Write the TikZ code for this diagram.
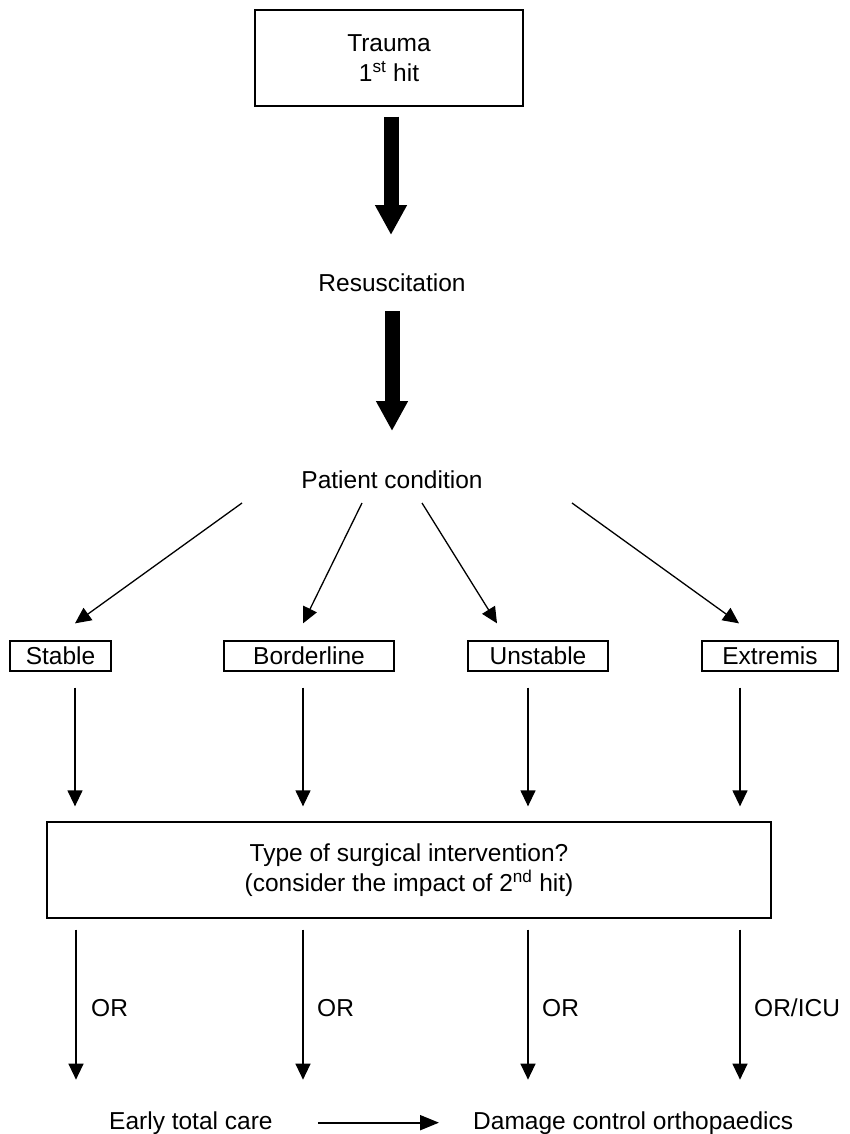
\documentclass[tikz,border=0pt]{standalone}
\usepackage{fontspec}
\setmainfont{Liberation Sans}
\usetikzlibrary{arrows.meta,calc}
\begin{document}
\begin{tikzpicture}[x=1pt,y=-1pt,
  every node/.style={font=\fontsize{24.5}{30}\selectfont, inner sep=0pt},
  box/.style={draw, line width=1.3pt, minimum height=30pt, align=center},
  thinarr/.style={line width=1.3pt, -{Triangle[length=16pt,width=15pt]}},
  fatarr/.style={line width=15pt, -{Triangle[length=30pt,width=30pt]}},
  lbl/.style={anchor=west}]
\path[use as bounding box, fill=white] (0,0) rectangle (849,1134);

% nodes
\node[box, minimum width=268pt, minimum height=96pt] (trauma) at (389,58) {Trauma\\1\textsuperscript{st} hit};
\node (resus) at (392,283) {Resuscitation};
\node (pc) at (392,480) {Patient condition};

\node[box, minimum width=101pt] (stable) at (60.5,656) {Stable};
\node[box, minimum width=170pt] (border) at (309,656) {Borderline};
\node[box, minimum width=140pt] (unst) at (538,656) {Unstable};
\node[box, minimum width=136pt] (extr) at (770,656) {Extremis};

\node[box, minimum width=724pt, minimum height=96pt, font=\fontsize{24.5}{29.5}\selectfont] (big) at (409,870)
  {Type of surgical intervention?\\(consider the impact of 2\textsuperscript{nd} hit)};

\node[lbl] (or1) at (91,1008) {OR};
\node[lbl] (or2) at (317,1008) {OR};
\node[lbl] (or3) at (542,1008) {OR};
\node[lbl] (or4) at (754,1008) {OR/ICU};

\node[anchor=base west] (etc) at (109,1129) {Early total care};
\node[anchor=base west] (dco) at (473,1129) {Damage control orthopaedics};

% thick arrows
\draw[fatarr] ($(trauma.south)+(2,10)$) -- ($(resus.center)+(-1,-48)$);
\draw[fatarr] ($(resus.center)+(0,28)$) -- ($(pc.center)+(0,-49)$);

% diagonal arrows
\draw[thinarr] ($(pc.center)+(-150,23)$) -- ($(stable.north)+(14.5,-17)$);
\draw[thinarr] ($(pc.center)+(-30,23)$) -- ($(border.north)+(-6,-17)$);
\draw[thinarr] ($(pc.center)+(30,23)$) -- ($(unst.north)+(-41,-17)$);
\draw[thinarr] ($(pc.center)+(180,23)$) -- ($(extr.north)+(-31,-17)$);

% vertical arrows into big box
\draw[thinarr] ($(stable.south)+(14.5,16)$) -- ($(stable.south |- big.north)+(14.5,-15)$);
\draw[thinarr] ($(border.south)+(-6,16)$) -- ($(border.south |- big.north)+(-6,-15)$);
\draw[thinarr] ($(unst.south)+(-10,16)$) -- ($(unst.south |- big.north)+(-10,-15)$);
\draw[thinarr] ($(extr.south)+(-30,16)$) -- ($(extr.south |- big.north)+(-30,-15)$);

% arrows out of big box
\draw[thinarr] ($(big.south)+(-333,11)$) -- ($(big.south)+(-333,161)$);
\draw[thinarr] ($(big.south)+(-106,11)$) -- ($(big.south)+(-106,161)$);
\draw[thinarr] ($(big.south)+(119,11)$) -- ($(big.south)+(119,161)$);
\draw[thinarr] ($(big.south)+(331,11)$) -- ($(big.south)+(331,161)$);

% bottom arrow
\draw[line width=2pt, -{Triangle[length=19pt,width=15pt]}] ($(etc.east)+(45,0)$) -- ($(dco.west)+(-34,0)$);
\end{tikzpicture}
\end{document}
